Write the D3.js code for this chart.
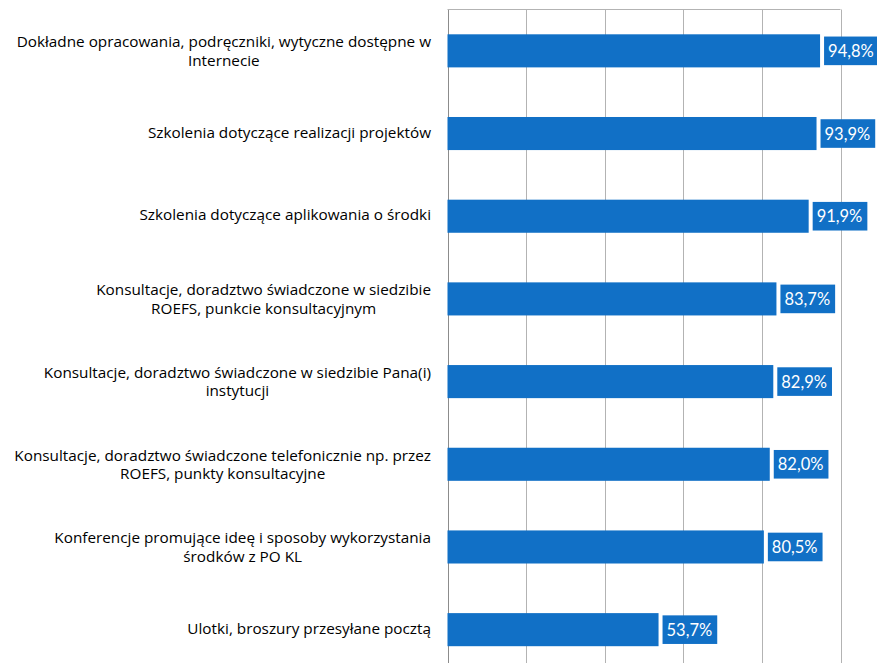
<!DOCTYPE html>
<html><head><meta charset="utf-8">
<script src="https://cdn.jsdelivr.net/npm/d3@7"></script>
<style>body{margin:0;background:#fff}svg{display:block}</style>
</head><body>
<svg id="chart" width="877" height="663"></svg>
<script>
const categories = [
  ["Dokładne opracowania, podręczniki, wytyczne dostępne w", "Internecie"],
  ["Szkolenia dotyczące realizacji projektów"],
  ["Szkolenia dotyczące aplikowania o środki"],
  ["Konsultacje, doradztwo świadczone w siedzibie", "ROEFS, punkcie konsultacyjnym"],
  ["Konsultacje, doradztwo świadczone w siedzibie Pana(i)", "instytucji"],
  ["Konsultacje, doradztwo świadczone telefonicznie np. przez", "ROEFS, punkty konsultacyjne"],
  ["Konferencje promujące ideę i sposoby wykorzystania", "środków z PO KL"],
  ["Ulotki, broszury przesyłane pocztą"]
];
const values = [94.8, 93.9, 91.9, 83.7, 82.9, 82.0, 80.5, 53.7];
const valueLabels = ["94,8%", "93,9%", "91,9%", "83,7%", "82,9%", "82,0%", "80,5%", "53,7%"];
const ticks = [0, 20, 40, 60, 80, 100];

const svg = d3.select("#chart");
const mLeft = 447.5, mRight = 840.5, mTop = 9.5, mBottom = 671;
const catFont = "'Open Sans', Lato, sans-serif";
const valFont = "Lato, 'Open Sans', sans-serif";

const x = d3.scaleLinear().domain([0, 100]).range([mLeft, mRight]);
const y = d3.scaleBand().domain(d3.range(categories.length)).range([mTop, mBottom]).paddingInner(0.6).paddingOuter(0.3);

// gridlines
svg.append("g").selectAll("line").data(ticks).join("line")
  .attr("x1", d => Math.round(x(d)) + 0.5).attr("x2", d => Math.round(x(d)) + 0.5)
  .attr("y1", mTop).attr("y2", mBottom)
  .attr("stroke", d => d === 0 ? "#8c8c8c" : "#b3b3b3").attr("stroke-width", 1);
svg.append("line").attr("x1", mLeft).attr("x2", mRight).attr("y1", mTop).attr("y2", mTop)
  .attr("stroke", "#b3b3b3");

// bars
svg.append("g").selectAll("rect").data(values).join("rect")
  .attr("x", x(0)).attr("y", (d, i) => y(i))
  .attr("width", d => x(d) - x(0)).attr("height", y.bandwidth())
  .attr("fill", "#1170c6");

// value labels
const vg = svg.append("g").selectAll("g").data(values).join("g");
vg.each(function(d, i) {
  const g = d3.select(this);
  const cy = y(i) + y.bandwidth() / 2;
  const bx = x(d) + 4;
  const rect = g.append("rect").attr("fill", "#1170c6");
  const t = g.append("text").text(valueLabels[i])
    .attr("x", bx + 4).attr("y", cy).attr("dy", "0.37em")
    .attr("font-family", valFont).attr("font-size", 16.5).attr("fill", "#fff");
  const w = t.node().getComputedTextLength();
  rect.attr("x", bx).attr("y", cy - 14.3).attr("width", w + 9).attr("height", 28.6);
});

// category labels
const lineH = 18.5;
const cg = svg.append("g").selectAll("g").data(categories).join("g");
cg.each(function(lines, i) {
  const g = d3.select(this);
  const cy = y(i) + y.bandwidth() / 2;
  const n = lines.length;
  const texts = lines.map((l, j) => g.append("text").text(l)
    .attr("font-family", catFont).attr("font-size", 15.3).attr("fill", "#000")
    .attr("text-anchor", "middle")
    .attr("y", cy + 4 + (j - (n - 1) / 2) * lineH + (n > 1 ? 1.5 : 0)));
  const maxW = d3.max(texts, t => t.node().getComputedTextLength());
  texts.forEach(t => t.attr("x", 431 - maxW / 2));
});
</script>
</body></html>
